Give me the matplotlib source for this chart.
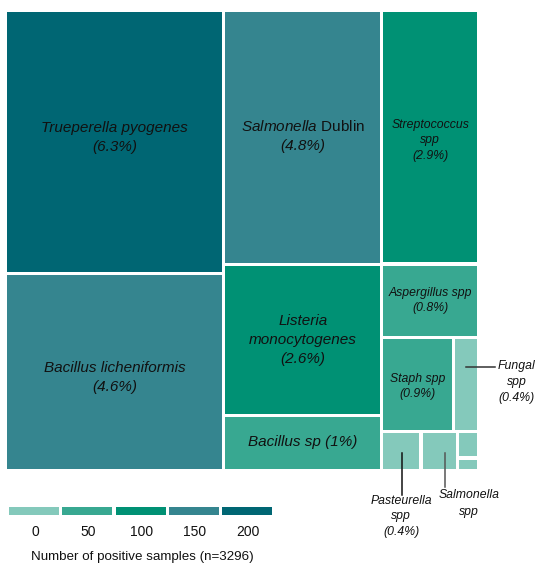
import matplotlib
matplotlib.use("Agg")
import matplotlib.pyplot as plt
from matplotlib.patches import Rectangle

##### DATA #####
n_total = 3296
names = ["Trueperella pyogenes", "Bacillus licheniformis", "Salmonella $\\mathrm{Dublin}$",
         "Listeria\nmonocytogenes", "Bacillus sp", "Streptococcus\nspp", "Aspergillus spp",
         "Staph spp", "Fungal\nspp", "Pasteurella\nspp", "Salmonella\nspp", "", ""]
pct = [6.3, 4.6, 4.8, 2.6, 1.0, 2.9, 0.8, 0.9, 0.4, 0.4, 0.4, 0.2, 0.1]
show_pct = [True, True, True, True, True, True, True, True, True, True, False, False, False]
# relative tile areas
area = [567, 424, 396, 236, 86, 242, 70, 67, 23, 15, 14, 5.5, 2.6]
# nesting of the tiles: columns, then rows, then columns...
groups = [[0, 1], [2, 3, 4], [5, 6, [7, 8], [9, 10, [11, 12]]]]

legend_values = [0, 50, 100, 150, 200]
legend_colors = ["#84c9bb", "#38a891", "#009174", "#35858f", "#006673"]
legend_title = "Number of positive samples (n=%d)" % n_total

##### FONTS #####
plt.rcParams["font.family"] = ["Liberation Sans", "DejaVu Sans"]
plt.rcParams["mathtext.fontset"] = "custom"
plt.rcParams["mathtext.rm"] = "Liberation Sans"
plt.rcParams["mathtext.it"] = "Liberation Sans:italic"

TEXT = "#111111"
GAP = 1.6
BIG, SMALL = 11, 8.8


def weight(node):
    if isinstance(node, int):
        return area[node]
    return sum(weight(c) for c in node)


def split(node, x, y, w, h, horiz, out):
    if isinstance(node, int):
        out[node] = (x, y, w, h)
        return
    total = weight(node)
    pos = 0.0
    for c in node:
        frac = weight(c) / total
        if horiz:
            split(c, x + pos * w, y, frac * w, h, False, out)
        else:
            split(c, x, y + pos * h, w, frac * h, True, out)
        pos += frac


def color_for(p):
    count = p * n_total / 100
    idx = int(round(count / 50))
    return legend_colors[max(0, min(idx, len(legend_colors) - 1))]


fig = plt.figure(figsize=(5.37, 5.65), dpi=100)
ax = fig.add_axes([0, 0, 1, 1])
ax.set_xlim(0, 537)
ax.set_ylim(565, 0)
ax.axis("off")

rects = {}
split(groups, 5.5, 10.5, 473, 460, True, rects)

for i in range(len(names)):
    x, y, w, h = rects[i]
    ax.add_patch(Rectangle((x + GAP, y + GAP), w - 2 * GAP, h - 2 * GAP,
                           facecolor=color_for(pct[i]), edgecolor="none"))

# labels inside the tiles: font size and small vertical nudge
inside = {0: (BIG, -5), 1: (BIG, 5), 2: (BIG, -1), 3: (BIG, 0), 4: (BIG, -1),
          5: (SMALL, 3), 6: (SMALL, 0), 7: (SMALL, 2)}
for i, (fs, dy) in inside.items():
    x, y, w, h = rects[i]
    txt = names[i]
    if show_pct[i]:
        sep = " " if i == 4 else "\n"
        txt += sep + "(%g%%)" % pct[i]
    ax.text(x + w / 2, y + h / 2 + dy, txt, ha="center", va="center", fontsize=fs,
            fontstyle="italic", color=TEXT, linespacing=1.45 if fs == BIG else 1.4)

# labels outside with leader lines
x, y, w, h = rects[8]
ly = y + 30
ax.plot([x + w / 2, x + w + 16], [ly, ly], color="#333333", lw=1.1)
ax.text(x + w + 38, ly - 7, names[8] + "\n(%g%%)" % pct[8], ha="center", va="top",
        fontsize=SMALL, fontstyle="italic", color=TEXT, linespacing=1.4)

x, y, w, h = rects[9]
ax.plot([x + w / 2 + 1, x + w / 2 + 1], [y + h / 2 + 2, y + h + 24], color="#111111", lw=1.1)
ax.text(x + w / 2, y + h + 24, names[9] + "\n(%g%%)" % pct[9], ha="center", va="top",
        fontsize=SMALL, fontstyle="italic", color=TEXT, linespacing=1.4)

x, y, w, h = rects[10]
ax.plot([x + w / 2 + 6, x + w / 2 + 6], [y + h / 2 + 2, y + h + 16], color="#555555", lw=1.1)
ax.text(x + w / 2 + 30, y + h + 19, names[10], ha="center", va="top",
        fontsize=SMALL, fontstyle="italic", color=TEXT, linespacing=1.45)

# legend
sw_x0, sw_y, sw_w, sw_h, sw_step = 9, 506.5, 50, 8.5, 53.3
for k, (val, col) in enumerate(zip(legend_values, legend_colors)):
    sx = sw_x0 + k * sw_step
    ax.add_patch(Rectangle((sx, sw_y), sw_w, sw_h, facecolor=col, edgecolor="none"))
    ax.text(sx + sw_w / 2 + 1, 532, str(val), ha="center", va="center",
            fontsize=10, color=TEXT)
ax.text(142, 557, legend_title, ha="center", va="center", fontsize=9.6, color=TEXT)

fig.savefig("out.png", dpi=100)
